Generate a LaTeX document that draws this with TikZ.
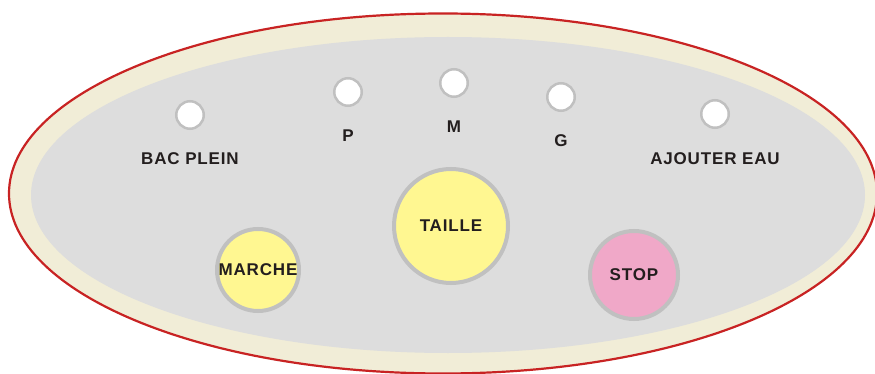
\documentclass[tikz,border=0pt]{standalone}
\usepackage{fontspec}
\newfontfamily\panelfont[LetterSpace=5]{Liberation Sans}
\usetikzlibrary{positioning}

\definecolor{rand}{RGB}{200,35,35}
\definecolor{zoom}{RGB}{241,237,215}
\definecolor{paneel}{RGB}{221,221,221}
\definecolor{ring}{RGB}{192,192,192}
\definecolor{geel}{RGB}{255,247,145}
\definecolor{roze}{RGB}{240,168,200}
\definecolor{tekst}{RGB}{35,30,30}

\begin{document}
\begin{tikzpicture}[%
			x=1pt, y=-1pt,
			led/.style={circle, draw=ring, line width=2.5pt, fill=white, minimum size=27.5pt, inner sep=0pt},
			knop/.style={circle, draw=ring, line width=4pt, inner sep=0pt, text=tekst,
				font=\panelfont\bfseries\fontsize{17}{17}\selectfont},
			opschrift/.style={inner sep=0pt, text height=12pt, text depth=0pt, text=tekst,
				font=\panelfont\bfseries\fontsize{17}{17}\selectfont}
			]
			\useasboundingbox (0,0) rectangle (875,374);
			% behuizing
			\draw[rand, line width=2.2pt, fill=zoom] (443,193.5) ellipse [x radius=434, y radius=180];
			\fill[paneel] (448,195) ellipse [x radius=417, y radius=158];
			% lampjes
			\node[led] (bac) at (190,115) {};
			\node[led] (p) at (348,92) {};
			\node[led] (m) at (454,83) {};
			\node[led] (g) at (561,97) {};
			\node[led] (eau) at (715,114) {};
			\node[opschrift, below=22pt of bac] (bactxt) {BAC PLEIN};
			\node[opschrift, below=22pt of p] (ptxt) {P};
			\node[opschrift, below=22pt of m] (mtxt) {M};
			\node[opschrift, below=22pt of g] (gtxt) {G};
			\node[opschrift, below=23pt of eau] (eautxt) {AJOUTER EAU};
			% knoppen
			\node[knop, fill=geel, minimum size=82pt] (marche) at (258,270) {MARCHE};
			\node[knop, fill=geel, minimum size=114pt] (taille) at (451,226) {TAILLE};
			\node[knop, fill=roze, minimum size=88pt] (stop) at (634,275) {STOP};
		\end{tikzpicture}
\end{document}
